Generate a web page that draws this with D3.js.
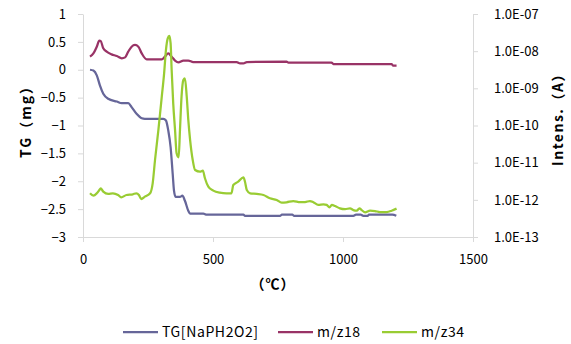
<!DOCTYPE html>
<html>
<head>
<meta charset="utf-8">
<script src="https://cdn.jsdelivr.net/npm/d3@7"></script>
<style>
  body { margin: 0; background: #fff; }
  svg text { font-family: "Noto Sans CJK JP", "Noto Sans", sans-serif; fill: #000; }
</style>
</head>
<body>
<div id="chart"></div>
<script>
// TG curve (left axis, mg) and two MS ion currents (right axis, log A)
const tgTemp = [27, 40, 53, 65, 78, 97, 130, 149, 174, 187, 206, 226, 238, 309, 319, 328, 337, 345, 350, 356, 373, 382, 392, 405, 412, 463, 476, 617, 623, 758, 765, 805, 812, 1040, 1050, 1068, 1078, 1095, 1100, 1190, 1205];
const tgMass = [0, -0.015, -0.1, -0.28, -0.43, -0.52, -0.57, -0.6, -0.6, -0.67, -0.79, -0.87, -0.88, -0.88, -0.91, -1.09, -1.39, -1.87, -2.17, -2.28, -2.28, -2.26, -2.35, -2.53, -2.58, -2.58, -2.6, -2.6, -2.62, -2.62, -2.6, -2.6, -2.62, -2.62, -2.6, -2.6, -2.62, -2.62, -2.6, -2.6, -2.62];

const mz18Temp = [27, 40, 53, 63, 68, 78, 91, 110, 130, 149, 162, 174, 187, 200, 213, 226, 245, 271, 303, 315, 328, 341, 354, 367, 386, 405, 424, 591, 604, 617, 630, 783, 790, 956, 963, 1187, 1192, 1206];
const mz18Int = [7.1e-9, 8.7e-9, 1.32e-8, 1.91e-8, 1.87e-8, 1.19e-8, 9.7e-9, 8.2e-9, 7.4e-9, 6.4e-9, 6.8e-9, 9.7e-9, 1.32e-8, 1.47e-8, 1.32e-8, 8.7e-9, 6.0e-9, 6.0e-9, 6.0e-9, 7.1e-9, 8.7e-9, 7.1e-9, 5.6e-9, 5.0e-9, 5.6e-9, 5.6e-9, 5.1e-9, 5.1e-9, 4.7e-9, 4.7e-9, 5.1e-9, 5.2e-9, 4.9e-9, 4.9e-9, 4.5e-9, 4.5e-9, 4.1e-9, 4.1e-9];

const mz34Temp = [27, 40, 53, 63, 68, 78, 97, 115, 135, 147, 167, 192, 205, 215, 224, 238, 258, 268, 277, 290, 303, 312, 319, 326, 332, 337, 341, 347, 354, 360, 368, 373, 379, 386, 392, 399, 405, 412, 422, 431, 450, 461, 469, 482, 501, 526, 552, 571, 578, 597, 617, 623, 630, 643, 668, 694, 719, 745, 764, 783, 809, 835, 854, 873, 886, 905, 925, 937, 948, 957, 970, 988, 1008, 1027, 1040, 1053, 1063, 1072, 1085, 1104, 1123, 1142, 1168, 1187, 1206];
const mz34Int = [1.5e-12, 1.3e-12, 1.5e-12, 1.84e-12, 2.04e-12, 1.66e-12, 1.44e-12, 1.5e-12, 1.35e-12, 1.17e-12, 1.35e-12, 1.41e-12, 1.5e-12, 1.35e-12, 1.05e-12, 1.22e-12, 1.5e-12, 2.78e-12, 1.18e-11, 7.6e-11, 5.97e-10, 2.53e-9, 1.07e-8, 2.21e-8, 2.56e-8, 1.62e-8, 3.11e-9, 3.95e-10, 7.6e-11, 1.79e-11, 1.39e-11, 7.6e-11, 5.97e-10, 1.67e-9, 1.86e-9, 5.97e-10, 1.41e-10, 4.07e-11, 1.18e-11, 6.35e-12, 5.73e-12, 6.1e-12, 3.8e-12, 2.26e-12, 1.77e-12, 1.56e-12, 1.5e-12, 1.5e-12, 2.51e-12, 3.08e-12, 4.03e-12, 3.08e-12, 1.84e-12, 1.5e-12, 1.44e-12, 1.35e-12, 1.1e-12, 9.9e-13, 8.4e-13, 8.6e-13, 9.3e-13, 8.7e-13, 8.7e-13, 9.3e-13, 8.6e-13, 7.3e-13, 7.6e-13, 7.3e-13, 6.3e-13, 7.3e-13, 6.8e-13, 5.9e-13, 5.6e-13, 5.9e-13, 5.3e-13, 5.1e-13, 5.9e-13, 5.3e-13, 4.6e-13, 5.1e-13, 5.0e-13, 4.7e-13, 4.7e-13, 5.1e-13, 5.8e-13];

const xTicks = [0, 500, 1000, 1500];
const leftTicks = [1, 0.5, 0, -0.5, -1, -1.5, -2, -2.5, -3];
const rightTicks = [1e-7, 1e-8, 1e-9, 1e-10, 1e-11, 1e-12, 1e-13];

const series = [
  { name: 'TG[NaPH2O2]', color: '#666699', temp: tgTemp, vals: tgMass, axis: 'left' },
  { name: 'm/z18', color: '#993366', temp: mz18Temp, vals: mz18Int, axis: 'right' },
  { name: 'm/z34', color: '#99cc33', temp: mz34Temp, vals: mz34Int, axis: 'right' }
];

const width = 571, height = 344;
const margin = { top: 14, right: 98, bottom: 107, left: 83 };
const innerW = width - margin.left - margin.right;
const innerH = height - margin.top - margin.bottom;

const svg = d3.select('#chart').append('svg').attr('width', width).attr('height', height);
const g = svg.append('g').attr('transform', `translate(${margin.left},${margin.top})`);

const x = d3.scaleLinear().domain([0, 1500]).range([0, innerW]);
const yL = d3.scaleLinear().domain([-3, 1]).range([innerH, 0]);
const yR = d3.scaleLog().domain([1e-13, 1e-7]).range([innerH, 0]);

const axisColor = '#d9d9d9';
const styleAxis = sel => {
  sel.select('.domain').attr('stroke', axisColor);
  sel.selectAll('.tick line').attr('stroke', axisColor);
  sel.selectAll('.tick text').style('font-size', '13px');
};

g.append('g')
  .attr('transform', `translate(0,${innerH})`)
  .call(d3.axisBottom(x).tickValues(xTicks).tickSize(5).tickSizeOuter(0).tickPadding(13).tickFormat(d3.format('d')))
  .call(styleAxis);

g.append('g')
  .call(d3.axisLeft(yL).tickValues(leftTicks).tickSize(5).tickSizeOuter(0).tickPadding(12).tickFormat(d3.format('')))
  .call(styleAxis);

const sci = d => '1.0E-' + String(-Math.round(Math.log10(d))).padStart(2, '0');
g.append('g')
  .attr('transform', `translate(${innerW},0)`)
  .call(d3.axisRight(yR).tickValues(rightTicks).tickSize(5).tickSizeOuter(0).tickPadding(16).tickFormat(sci))
  .call(styleAxis);

// axis titles
svg.append('text')
  .attr('transform', `translate(31,118) rotate(-90)`)
  .attr('text-anchor', 'middle')
  .style('font-size', '14px').style('font-weight', 'bold').style('letter-spacing', '2px')
  .text('TG（mg）');

svg.append('text')
  .attr('transform', `translate(563,116) rotate(-90)`)
  .attr('text-anchor', 'middle')
  .style('font-size', '14px').style('font-weight', 'bold').style('letter-spacing', '1.5px')
  .text('Intens.（A）');

svg.append('text')
  .attr('x', 273)
  .attr('y', 289)
  .attr('text-anchor', 'middle')
  .style('font-size', '14px').style('font-weight', 'bold').style('letter-spacing', '1px')
  .text('（℃）');

// lines
series.forEach(s => {
  const yS = s.axis === 'left' ? yL : yR;
  const pts = s.temp.map((t, i) => [t, s.vals[i]]);
  g.append('path')
    .datum(pts)
    .attr('fill', 'none')
    .attr('stroke', s.color)
    .attr('stroke-width', 2.25)
    .attr('stroke-linejoin', 'round')
    .attr('d', d3.line().x(d => x(d[0])).y(d => yS(d[1])).curve(d3.curveMonotoneX));
});

// legend
const legendX = [123, 278, 382];
const legend = svg.append('g').attr('transform', 'translate(0,332)');
series.forEach((s, i) => {
  legend.append('line')
    .attr('x1', legendX[i]).attr('x2', legendX[i] + 35)
    .attr('stroke', s.color).attr('stroke-width', 2.25);
  legend.append('text')
    .attr('x', legendX[i] + 39).attr('y', 0).attr('dy', '0.35em')
    .style('font-size', '14px').style('letter-spacing', '0.6px')
    .text(s.name);
});
</script>
</body>
</html>
